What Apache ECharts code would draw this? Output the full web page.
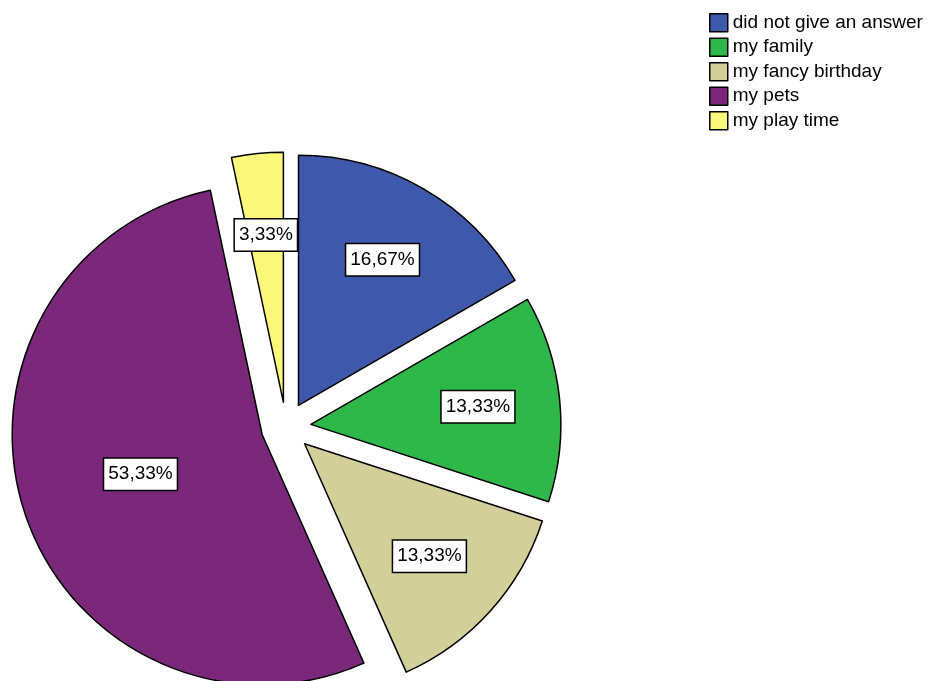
<!DOCTYPE html>
<html>
<head>
<meta charset="utf-8">
<script src="https://cdn.jsdelivr.net/npm/echarts@6/dist/echarts.min.js"></script>
<style>
  html, body { margin: 0; padding: 0; background: #fff; }
  #chart { width: 938px; height: 681px; }
</style>
</head>
<body>
<div id="chart"></div>
<script>
// Answer categories and their share of respondents (percent)
const categories = ['did not give an answer', 'my family', 'my fancy birthday', 'my pets', 'my play time'];
const percents = [16.67, 13.33, 13.33, 53.33, 3.33];
const colors = ['#3e58ac', '#2eb84a', '#d3cf99', '#7b287b', '#fbf77b'];

const FONT = 'Liberation Sans, Arial, sans-serif';
const center = [286, 427];
const explode = 25;

function fmt(v) {
  return v.toFixed(2).replace('.', ',') + '%';
}

const labelBox = {
  fontFamily: FONT,
  fontSize: 19,
  color: '#000',
  backgroundColor: '#fff',
  borderColor: '#000',
  borderWidth: 1.5,
  padding: [5, 4, 5, 4],
  lineHeight: 21,
  formatter: p => fmt(p.value)
};

// Visible slices; the largest slice carries its own label near its middle
const sliceData = categories.map((name, i) => ({
  name,
  value: percents[i],
  selected: true,
  itemStyle: { color: colors[i] },
  label: { show: name === 'my pets' }
}));

// Transparent companion ring that places the remaining labels further out
const labelData = categories.map((name, i) => ({
  name,
  value: percents[i],
  selected: true,
  label: { show: name !== 'my pets' }
}));

const chart = echarts.init(document.getElementById('chart'), null, { renderer: 'canvas' });
chart.setOption({
  backgroundColor: '#fff',
  animation: false,
  legend: {
    orient: 'vertical',
    left: 709,
    top: 13,
    padding: 0,
    itemWidth: 18,
    itemHeight: 18,
    itemGap: 5,
    icon: 'rect',
    selectedMode: false,
    data: categories,
    itemStyle: { borderColor: '#000', borderWidth: 1.5 },
    textStyle: { fontFamily: FONT, fontSize: 19, lineHeight: 18, color: '#000', padding: [0, 0, 0, 0] }
  },
  series: [
    {
      type: 'pie',
      center,
      radius: [0, 250],
      startAngle: 90,
      clockwise: true,
      selectedMode: 'multiple',
      selectedOffset: explode,
      avoidLabelOverlap: false,
      itemStyle: { borderColor: '#000', borderWidth: 1.5 },
      label: Object.assign({ position: 'inside' }, labelBox),
      labelLine: { show: false },
      emphasis: { scale: false, disabled: true },
      select: { itemStyle: { borderColor: '#000', borderWidth: 1.5 } },
      data: sliceData
    },
    {
      type: 'pie',
      center,
      radius: [0, 330],
      startAngle: 90,
      clockwise: true,
      silent: true,
      selectedMode: 'multiple',
      selectedOffset: explode,
      avoidLabelOverlap: false,
      itemStyle: { color: 'rgba(0,0,0,0)', borderWidth: 0 },
      label: Object.assign({ position: 'inside' }, labelBox),
      labelLine: { show: false },
      emphasis: { disabled: true },
      select: { itemStyle: { color: 'rgba(0,0,0,0)', borderWidth: 0 } },
      data: labelData
    }
  ]
});
</script>
</body>
</html>
